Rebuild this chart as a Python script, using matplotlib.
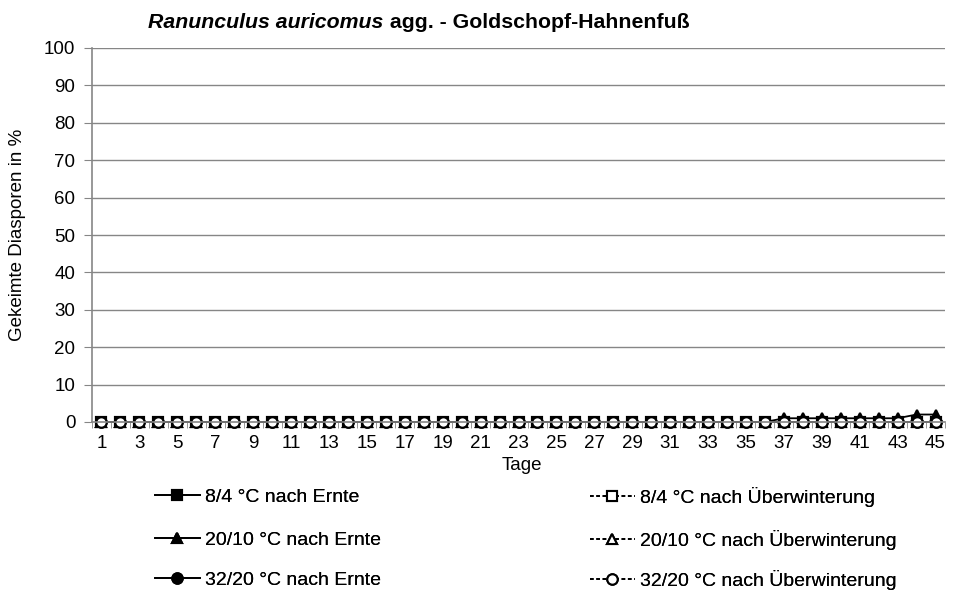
import numpy as np
import matplotlib.pyplot as plt

plt.rcParams['font.family'] = ['Liberation Sans', 'DejaVu Sans']

tage = np.arange(1, 46)

# gekeimte Diasporen in % pro Tag
ernte_8_4 = [0] * 45
ernte_20_10 = [0] * 36 + [1] * 7 + [2, 2]
ernte_32_20 = [0] * 45
uew_8_4 = [0] * 45
uew_20_10 = [0] * 45
uew_32_20 = [0] * 45

W, H = 963, 591
fig = plt.figure(figsize=(W / 100, H / 100), dpi=100)
ax = fig.add_axes([92 / W, 1 - 422 / H, (945 - 92) / W, (422 - 48) / H])

grau = '#868686'
fs = 13.5
ax.set_xlim(0.5, 45.5)
ax.set_ylim(0, 100)
ax.set_yticks(range(0, 101, 10))
ax.set_xticks(tage[::2])
ax.set_xticks(np.arange(0.5, 46, 1), minor=True)
ax.yaxis.grid(True, color=grau, lw=1)
ax.set_axisbelow(True)
for s in ['top', 'right']:
    ax.spines[s].set_visible(False)
for s in ['left', 'bottom']:
    ax.spines[s].set_color(grau)
    ax.spines[s].set_linewidth(1.2)
ax.tick_params(axis='y', length=6, color=grau, labelsize=fs, pad=6)
ax.tick_params(axis='x', which='major', length=0, labelsize=fs, pad=9)
ax.tick_params(axis='x', which='minor', length=4, color=grau)

kw = dict(color='black', lw=1.3, ms=7.5, clip_on=False)
serien = [
    (ernte_8_4, '-', 's', 'black', '8/4 °C nach Ernte'),
    (ernte_20_10, '-', '^', 'black', '20/10 °C nach Ernte'),
    (ernte_32_20, '-', 'o', 'black', '32/20 °C nach Ernte'),
    (uew_8_4, (0, (2, 1.5)), 's', 'white', '8/4 °C nach Überwinterung'),
    (uew_20_10, (0, (2, 1.5)), '^', 'white', '20/10 °C nach Überwinterung'),
    (uew_32_20, (0, (2, 1.5)), 'o', 'white', '32/20 °C nach Überwinterung'),
]
linien = []
for werte, ls, m, fc, name in serien:
    l, = ax.plot(tage, werte, ls=ls, marker=m, mfc=fc, mec='black',
                 mew=1.5, label=name, **kw)
    linien.append(l)

# Titel: Artname kursiv, Rest fett
t1 = fig.text(0, 1 - 22 / H, 'Ranunculus auricomus', ha='left', va='center',
              fontsize=15.3, fontweight='bold', style='italic')
t2 = fig.text(0, 1 - 22 / H, ' agg. - Goldschopf-Hahnenfuß', ha='left',
              va='center', fontsize=15.3, fontweight='bold')
r = fig.canvas.get_renderer()
w1 = t1.get_window_extent(r).width
w2 = t2.get_window_extent(r).width
x0 = 419 - (w1 + w2) / 2
t1.set_x(x0 / W)
t2.set_x((x0 + w1) / W)

fig.text(18 / W, 1 - 235 / H, 'Gekeimte Diasporen in %', rotation=90,
         ha='center', va='center', fontsize=fs)
fig.text(522 / W, 1 - 465 / H, 'Tage', ha='center', va='center', fontsize=fs)

# Legende: je Eintrag eine Zeile, links nach Ernte, rechts nach Überwinterung
zeilen_y = [497, 540, 580]
leg_kw = dict(frameon=False, fontsize=14, handlelength=2.3, handletextpad=0.25,
              loc='center left', borderaxespad=0, borderpad=0)
for i, l in enumerate(linien):
    x = 155 if i < 3 else 590
    y = zeilen_y[i % 3]
    fig.add_artist(fig.legend(handles=[l], bbox_to_anchor=(x / W, 1 - y / H), **leg_kw))

fig.savefig('out.png', dpi=100)
